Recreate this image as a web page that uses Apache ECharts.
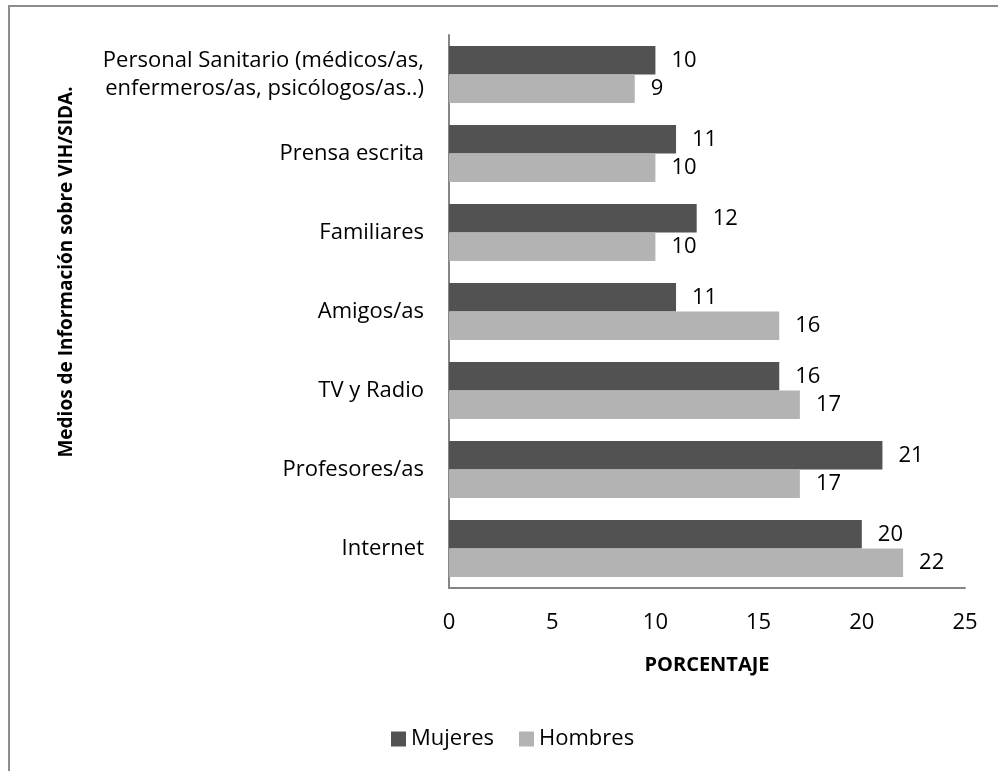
<!DOCTYPE html>
<html>
<head>
<meta charset="utf-8">
<script src="https://cdn.jsdelivr.net/npm/echarts@6/dist/echarts.min.js"></script>
<style>
  html, body { margin: 0; padding: 0; background: #fff; }
  #chart { width: 998px; height: 771px; }
</style>
</head>
<body>
<div id="chart"></div>
<script>
// categorias de arriba hacia abajo
var categorias = [
    'Personal Sanitario (médicos/as,\nenfermeros/as, psicólogos/as..)',
    'Prensa escrita',
    'Familiares',
    'Amigos/as',
    'TV y Radio',
    'Profesores/as',
    'Internet'
];
var mujeres = [10, 11, 12, 11, 16, 21, 20];
var hombres = [9, 10, 10, 16, 17, 17, 22];
var ticksX = [0, 5, 10, 15, 20, 25];

var fuente = 'Open Sans';

var chart = echarts.init(document.getElementById('chart'));

var etiqueta = {
    show: true,
    position: 'right',
    distance: 16,
    color: '#000',
    fontFamily: fuente,
    fontSize: 22
};

var option = {
    animation: false,
    textStyle: { fontFamily: fuente },
    graphic: [{
        type: 'rect',
        shape: { x: 9, y: 6, width: 1000, height: 800 },
        style: { fill: 'none', stroke: '#8c8c8c', lineWidth: 2 },
        silent: true
    }, {
        // titulo del eje vertical (Excel lo coloca algo por encima del centro)
        type: 'text',
        x: 67,
        y: 272,
        rotation: Math.PI / 2,
        style: {
            text: 'Medios de Información sobre VIH/SIDA.',
            fill: '#000',
            font: 'bold 19px "Open Sans"',
            align: 'center',
            verticalAlign: 'middle'
        },
        silent: true
    }],
    legend: {
        data: ['Mujeres', 'Hombres'],
        left: 386,
        top: 723,
        itemWidth: 15,
        itemHeight: 15,
        itemGap: 25,
        icon: 'rect',
        textStyle: { color: '#000', fontFamily: fuente, fontSize: 22 }
    },
    grid: {
        left: 449,
        top: 35,
        right: 33,
        bottom: 183
    },
    xAxis: {
        type: 'value',
        min: ticksX[0],
        max: ticksX[ticksX.length - 1],
        interval: 5,
        name: 'PORCENTAJE',
        nameLocation: 'middle',
        nameGap: 67,
        nameTextStyle: { color: '#000', fontWeight: 'bold', fontSize: 20, fontFamily: fuente },
        axisLine: { show: true, lineStyle: { color: '#868686', width: 2 } },
        axisTick: { show: false },
        splitLine: { show: false },
        axisLabel: { color: '#000', fontSize: 22, margin: 24, fontFamily: fuente }
    },
    yAxis: {
        type: 'category',
        inverse: true,
        data: categorias,
        axisLine: { show: true, lineStyle: { color: '#868686', width: 2 } },
        axisTick: { show: false },
        axisLabel: { color: '#000', fontSize: 22, margin: 25, lineHeight: 28, fontFamily: fuente }
    },
    series: [{
        name: 'Mujeres',
        type: 'bar',
        data: mujeres,
        barGap: '0%',
        barCategoryGap: '28%',
        itemStyle: { color: '#525252' },
        label: etiqueta
    }, {
        name: 'Hombres',
        type: 'bar',
        data: hombres,
        itemStyle: { color: '#b3b3b3' },
        label: etiqueta
    }]
};

chart.setOption(option);
</script>
</body>
</html>
